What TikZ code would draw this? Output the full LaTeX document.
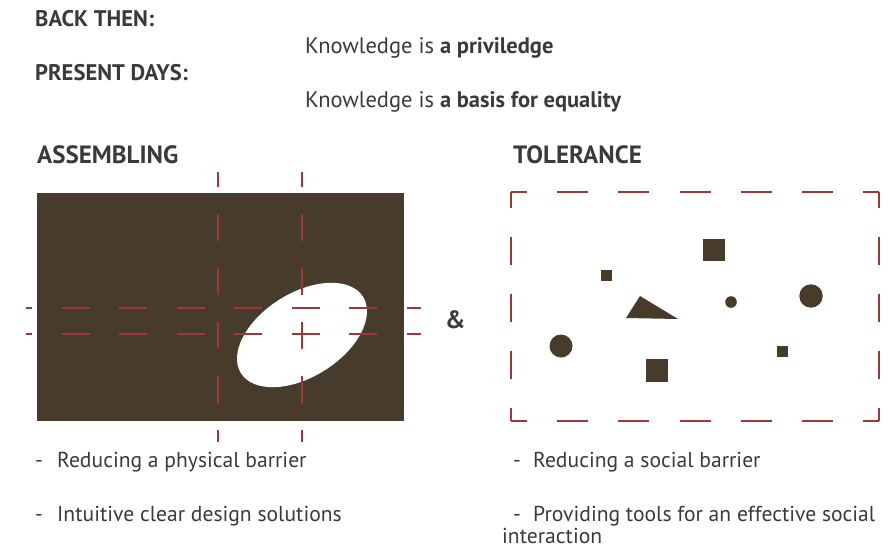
\documentclass[tikz,border=0pt]{standalone}
\usepackage{fontspec}
\setmainfont{PT Sans}
\usetikzlibrary{positioning}
\definecolor{barrierbrown}{RGB}{71,59,43}
\definecolor{guidered}{RGB}{160,55,55}
\definecolor{textgray}{RGB}{58,58,58}

\begin{document}
\begin{tikzpicture}[
  x=1pt, y=-1pt,
  textbase/.style={anchor=base west, inner sep=0pt, text=textgray},
  heading/.style={textbase, font=\fontsize{22.6}{26}\selectfont\bfseries},
  statement/.style={textbase, font=\fontsize{22.5}{26}\selectfont},
  bullet/.style={textbase, font=\fontsize{21.6}{21}\selectfont},
  title/.style={textbase, font=\fontsize{25}{29}\selectfont\bfseries},
  guide/.style={draw=guidered, line width=1.2pt},
  hguide/.style={guide, dash pattern=on 28pt off 29.5pt, dash phase=22pt},
  vguide/.style={guide, dash pattern=on 27pt off 27pt, dash phase=12pt},
  piece/.style={fill=barrierbrown},
]
\useasboundingbox (0,0) rectangle (888,555);

% Header lines
\node[heading] (back) at (35,26) {BACK THEN:};
\node[statement] (privilege) at (305,53) {Knowledge is \textbf{a priviledge}};
\node[heading] (present) at (35,80) {PRESENT DAYS:};
\node[statement] (equality) at (305,107) {Knowledge is \textbf{a basis for equality}};

% Section titles
\node[title] (assembling) at (37,163) {ASSEMBLING};
\node[title] (tolerance) at (513,163) {TOLERANCE};

% Assembling: solid block with an opening, plus guides
\fill[barrierbrown] (37,193) rectangle (404,421);
\fill[white, rotate around={32:(302,335)}] (302,335) ellipse [x radius=72, y radius=42];
\draw[hguide] (26,308) -- (421,308);
\draw[hguide] (26,334) -- (421,334);
\draw[vguide] (218,172) -- (218,442);
\draw[vguide] (302,172) -- (302,442);

\node[title] (and) at (445,328) {\&};

% Tolerance: open frame with scattered pieces
\draw[guide, dash pattern=on 31pt off 30.2pt, dash phase=15pt]
  (511,192) -- (879,192) (511,421) -- (879,421);
\draw[guide, dash pattern=on 28pt off 29pt, dash phase=12pt]
  (511,192) -- (511,421) (879,192) -- (879,421);

\fill[piece] (703,239) rectangle (725,261);
\fill[piece] (601,270) rectangle (612,281);
\fill[piece] (640,296) -- (626,318) -- (678,319) -- cycle;
\fill[piece] (731,302) circle [radius=5.8];
\fill[piece] (811,296) circle [radius=11.7];
\fill[piece] (561,346) circle [radius=11.5];
\fill[piece] (646,359) rectangle (668,382);
\fill[piece] (777,346) rectangle (788,357);

% Bullet points
\node[bullet] (physical) at (35,467) {\makebox[22pt][l]{-}Reducing a physical barrier};
\node[bullet] (intuitive) at (35,521) {\makebox[22pt][l]{-}Intuitive clear design solutions};
\node[bullet] (social) at (513,467) {\makebox[20pt][l]{-}Reducing a social barrier};
\node[bullet] (tools) at (513,521) {\makebox[20pt][l]{-}Providing tools for an effective social};
\node[bullet] (interaction) at (502,543) {interaction};

\end{tikzpicture}
\end{document}
